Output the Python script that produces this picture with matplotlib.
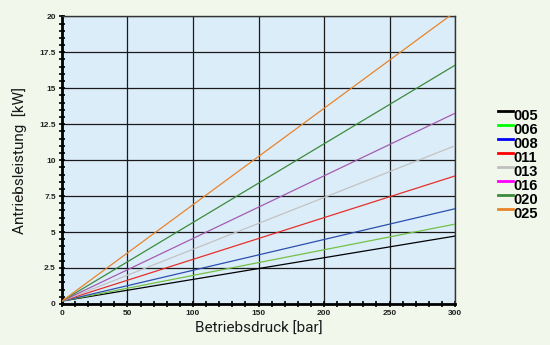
import matplotlib
matplotlib.use("Agg")
import matplotlib.pyplot as plt
from matplotlib.lines import Line2D
from matplotlib.legend_handler import HandlerLine2D
from matplotlib.ticker import MultipleLocator

# Antriebsleistung vs. Betriebsdruck, one line per pump size
pressure = [0, 300]
sizes = ["005", "006", "008", "011", "013", "016", "020", "025"]
power_start = [0.2, 0.2, 0.2, 0.2, 0.2, 0.2, 0.2, 0.2]
power_end = [4.72, 5.55, 6.62, 8.9, 11.0, 13.26, 16.6, 20.3]
line_colors = ["#000000", "#74c044", "#2b4fae", "#e5302b", "#c2c2c2",
               "#a45cb1", "#3b8b3b", "#e8842a"]
legend_colors = ["#000000", "#00ff00", "#0000ff", "#ff0000", "#c0c0c0",
                 "#ff00ff", "#3b8b3b", "#e8842a"]


class RaisedLine(HandlerLine2D):
    # legend swatch sits at the top of the label instead of its middle
    def create_artists(self, legend, orig_handle, xdescent, ydescent,
                       width, height, fontsize, trans):
        arts = super().create_artists(legend, orig_handle, xdescent,
                                      ydescent, width, height, fontsize, trans)
        for a in arts:
            a.set_ydata([y + 0.35 * height for y in a.get_ydata()])
        return arts


fig = plt.figure(figsize=(5.5, 3.45), dpi=100, facecolor="#f2f7ec")
ax = fig.add_axes([0.1127, 0.119, 0.7146, 0.8337])
ax.set_facecolor("#dcedfa")

for s, y0, y1, c in zip(sizes, power_start, power_end, line_colors):
    ax.plot(pressure, [y0, y1], color=c, lw=0.9, zorder=3)

ax.set_xlim(0, 300)
ax.set_ylim(0, 20)
ax.xaxis.set_major_locator(MultipleLocator(50))
ax.xaxis.set_minor_locator(MultipleLocator(10))
ax.yaxis.set_major_locator(MultipleLocator(2.5))
ax.yaxis.set_minor_locator(MultipleLocator(0.5))
ax.yaxis.set_major_formatter(plt.FuncFormatter(lambda v, p: f"{v:g}"))

ax.grid(True, which="major", color="#1a1a1a", lw=0.9, zorder=1)
ax.set_axisbelow(True)

for side in ["left", "bottom"]:
    ax.spines[side].set_linewidth(2.0)
    ax.spines[side].set_color("black")
for side in ["top", "right"]:
    ax.spines[side].set_linewidth(1.0)
    ax.spines[side].set_color("#333333")

ax.tick_params(which="both", direction="inout", width=1.2, color="black")
ax.tick_params(which="major", length=5, pad=2, labelsize=6)
ax.tick_params(which="minor", length=4.5)
for lab in ax.get_xticklabels() + ax.get_yticklabels():
    lab.set_fontweight("bold")
    lab.set_family("Liberation Sans")
    lab.set_color("#222222")

ax.set_xlabel("Betriebsdruck [bar]", fontsize=11, family="Roboto",
              color="#1a1a1a", labelpad=3)
ax.set_ylabel("Antriebsleistung  [kW]", fontsize=11, family="Roboto",
              color="#1a1a1a", labelpad=9)

handles = [Line2D([], [], color=c, lw=2) for c in legend_colors]
leg = fig.legend(handles, sizes, loc="upper left",
                 bbox_to_anchor=(0.893, 0.705), frameon=False,
                 handlelength=1.0, handletextpad=0.05, labelspacing=0.0,
                 borderpad=0, handler_map={Line2D: RaisedLine()},
                 prop={"family": "Liberation Sans", "weight": "bold",
                       "size": 10.5})

fig.savefig("out.png", dpi=100, facecolor=fig.get_facecolor())
